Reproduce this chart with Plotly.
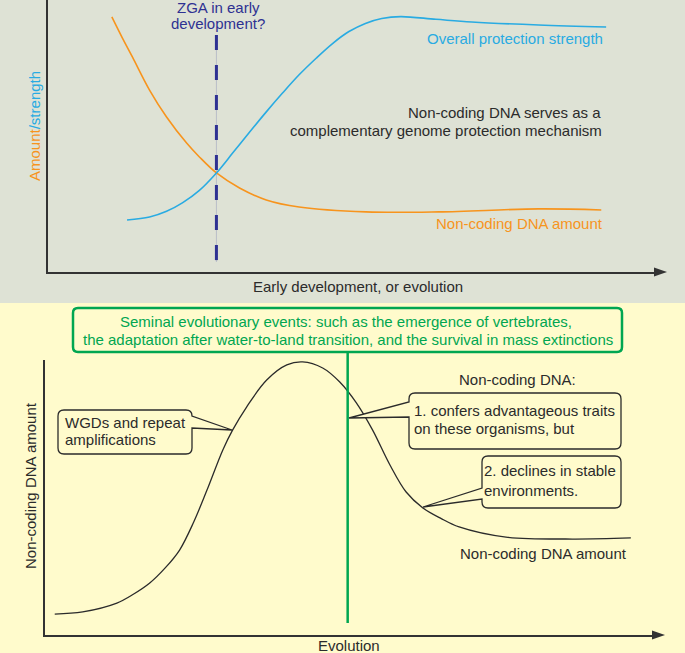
import plotly.graph_objects as go

W, H = 685, 653

# ---- top panel: early development (arbitrary units, 0-100) ----
amount_x = [10.5, 12.2, 13.9, 16.7, 19.5, 22.8, 24.9, 27.7, 31.5, 35.9, 41.3, 52.3, 64.3, 80.7, 91.0]
amount_y = [93.8, 86.2, 79.0, 66.9, 57.0, 47.4, 42.3, 36.4, 30.9, 26.5, 23.9, 22.1, 22.1, 23.2, 22.8]

strength_x = [13.0, 16.7, 19.5, 22.1, 24.9, 27.7, 30.4, 33.1, 35.8, 38.5, 41.3, 44.1, 46.8, 49.5, 52.2, 54.9, 58.0, 63.8, 69.7, 80.7, 91.8]
strength_y = [19.1, 20.2, 22.3, 25.4, 30.0, 36.4, 43.8, 51.3, 58.6, 65.6, 72.5, 78.6, 84.0, 88.4, 91.4, 93.2, 93.9, 92.9, 91.9, 90.8, 90.1]

zga_x = 27.7
zga_y = [87.1, 3.7]

# ---- bottom panel: evolution ----
evo_x = [1.6, 6.2, 11.8, 14.5, 17.2, 19.7, 22.1, 24.4, 26.6, 29.2, 30.8, 33.1, 36.4, 39.7, 42.3, 45.6, 48.4,
         51.1, 53.8, 56.6, 59.3, 62.0, 65.0, 68.0, 75.7, 86.6, 96.2]
evo_y = [7.6, 8.4, 11.6, 14.8, 18.9, 24.3, 30.9, 41.0, 52.7, 67.3, 74.5, 82.9, 92.7, 98.2, 99.3, 97.1, 92.0,
         84.5, 74.5, 62.0, 52.0, 46.3, 42.4, 39.3, 35.6, 34.9, 35.3]
event_x = 49.7

ORANGE = "#f7941d"
BLUE = "#29abe2"
NAVY = "#2e3192"
GREEN = "#00a651"
INK = "#2b2b2b"
TOP_BG = "#dee2d5"
BOT_BG = "#fffbcc"
FONT = "Liberation Sans, Arial, sans-serif"


def px(x):
    return x / W


def py(y):
    return 1 - y / H


def pt(x, y):
    return f"{px(x):.5f},{py(y):.5f}"


def bubble(x0, y0, x1, y1, r=6, tail=None):
    # tail = (side, upper_y, tip_x, tip_y, lower_y)
    p = [f"M{pt(x0 + r, y0)}", f"L{pt(x1 - r, y0)}", f"Q{pt(x1, y0)} {pt(x1, y0 + r)}"]
    if tail and tail[0] == "right":
        _, a, tx, ty, b = tail
        p += [f"L{pt(x1, a)}", f"L{pt(tx, ty)}", f"L{pt(x1, b)}"]
    p += [f"L{pt(x1, y1 - r)}", f"Q{pt(x1, y1)} {pt(x1 - r, y1)}",
          f"L{pt(x0 + r, y1)}", f"Q{pt(x0, y1)} {pt(x0, y1 - r)}"]
    if tail and tail[0] == "left":
        _, a, tx, ty, b = tail
        p += [f"L{pt(x0, b)}", f"L{pt(tx, ty)}", f"L{pt(x0, a)}"]
    p += [f"L{pt(x0, y0 + r)}", f"Q{pt(x0, y0)} {pt(x0 + r, y0)}", "Z"]
    return " ".join(p)


fig = go.Figure()

fig.add_trace(go.Scatter(x=amount_x, y=amount_y, mode="lines", line=dict(color=ORANGE, width=1.6, shape="spline", smoothing=1),
                         xaxis="x", yaxis="y", hoverinfo="skip"))
fig.add_trace(go.Scatter(x=strength_x, y=strength_y, mode="lines", line=dict(color=BLUE, width=1.6, shape="spline", smoothing=1),
                         xaxis="x", yaxis="y", hoverinfo="skip"))
fig.add_trace(go.Scatter(x=evo_x, y=evo_y, mode="lines", line=dict(color=INK, width=1.3, shape="spline", smoothing=1),
                         xaxis="x2", yaxis="y2", hoverinfo="skip"))

shapes = [
    dict(type="rect", xref="paper", yref="paper", x0=0, x1=1, y0=py(303), y1=1, fillcolor=TOP_BG, line_width=0, layer="below"),
    dict(type="rect", xref="paper", yref="paper", x0=0, x1=1, y0=0, y1=py(303), fillcolor=BOT_BG, line_width=0, layer="below"),
    # ZGA marker
    dict(type="line", xref="x", yref="y", x0=zga_x, x1=zga_x, y0=zga_y[0], y1=zga_y[1], line=dict(color="#b9bdc9", width=1), layer="below"),
    dict(type="line", xref="x", yref="y", x0=zga_x, x1=zga_x, y0=zga_y[0], y1=zga_y[1], line=dict(color=NAVY, width=3, dash="15px,15px")),
    # axis arrowheads
    dict(type="path", xref="paper", yref="paper", path=f"M{pt(667, 272)} L{pt(654, 267.5)} L{pt(654, 276.5)} Z",
         fillcolor="#333333", line_width=0),
    dict(type="path", xref="paper", yref="paper", path=f"M{pt(665, 635)} L{pt(652, 630.5)} L{pt(652, 639.5)} Z",
         fillcolor="#333333", line_width=0),
    # seminal events
    dict(type="line", xref="x2", yref="paper", x0=event_x, x1=event_x, y0=py(352), y1=py(623), line=dict(color=GREEN, width=2.5)),
    dict(type="path", xref="paper", yref="paper", path=bubble(73, 308, 622, 352, r=5), fillcolor=BOT_BG, line=dict(color=GREEN, width=2.5)),
    # callouts
    dict(type="path", xref="paper", yref="paper", path=bubble(58, 410, 192, 454, tail=("right", 416, 232, 430, 428)),
         fillcolor=BOT_BG, line=dict(color=INK, width=1.3)),
    dict(type="path", xref="paper", yref="paper", path=bubble(409, 393, 621, 449, tail=("left", 402, 349, 418, 417)),
         fillcolor=BOT_BG, line=dict(color=INK, width=1.3)),
    dict(type="path", xref="paper", yref="paper", path=bubble(482, 456, 621, 508, tail=("left", 488, 423, 507, 499)),
         fillcolor=BOT_BG, line=dict(color=INK, width=1.3)),
]


def label(text, x, y, color=INK, anchor="center", angle=0):
    return dict(text=text, x=px(x), y=py(y), xref="paper", yref="paper", xanchor=anchor, yanchor="middle",
                showarrow=False, textangle=angle, font=dict(color=color, size=15, family=FONT),
                borderpad=0, borderwidth=0)


annotations = [
    label("ZGA in early", 218, 8, NAVY),
    label("development?", 218, 24, NAVY),
    label("Overall protection strength", 603, 39, BLUE, "right"),
    label("Non-coding DNA serves as a", 601, 113, INK, "right"),
    label("complementary genome protection mechanism", 602, 130, INK, "right"),
    label("Non-coding DNA amount", 603, 223, ORANGE, "right"),
    label("Early development, or evolution", 358, 286),
    label(f'<span style="color:{ORANGE}">Amount</span><span style="color:{BLUE}">/strength</span>', 35, 126, angle=-90),
    label("Seminal evolutionary events: such as the emergence of vertebrates,", 346, 321, GREEN),
    label("the adaptation after water-to-land transition, and the survival in mass extinctions", 348, 339, GREEN),
    label("WGDs and repeat", 65, 422, anchor="left"),
    label("amplifications", 65, 439, anchor="left"),
    label("Non-coding DNA:", 459, 379, anchor="left"),
    label("1. confers advantageous traits", 414, 410, anchor="left"),
    label("on these organisms, but", 414, 428, anchor="left"),
    label("2. declines in stable", 484, 470, anchor="left"),
    label("environments.", 484, 490, anchor="left"),
    label("Non-coding DNA amount", 460, 553, anchor="left"),
    label("Evolution", 349, 645),
    label("Non-coding DNA amount", 30, 486, angle=-90),
]

axis_style = dict(showgrid=False, zeroline=False, showticklabels=False, ticks="", showline=True,
                  linecolor="#333333", linewidth=1.5, fixedrange=True)

fig.update_layout(
    width=W, height=H,
    margin=dict(l=0, r=0, t=0, b=0),
    paper_bgcolor=BOT_BG,
    plot_bgcolor="rgba(0,0,0,0)",
    showlegend=False,
    font=dict(family=FONT),
    xaxis=dict(domain=[px(48), px(656)], range=[0, 100], anchor="y", **axis_style),
    yaxis=dict(domain=[py(272), 1], range=[0, 100], anchor="x", **axis_style),
    xaxis2=dict(domain=[px(45), px(654)], range=[0, 100], anchor="y2", **axis_style),
    yaxis2=dict(domain=[py(635), py(360)], range=[0, 100], anchor="x2", **axis_style),
    shapes=shapes,
    annotations=annotations,
)

# the page's default body margin would shift the figure by 8px
fig.write_html("out.html", config={"displayModeBar": False},
               post_script="document.body.style.margin='0';document.body.style.overflow='hidden';")
